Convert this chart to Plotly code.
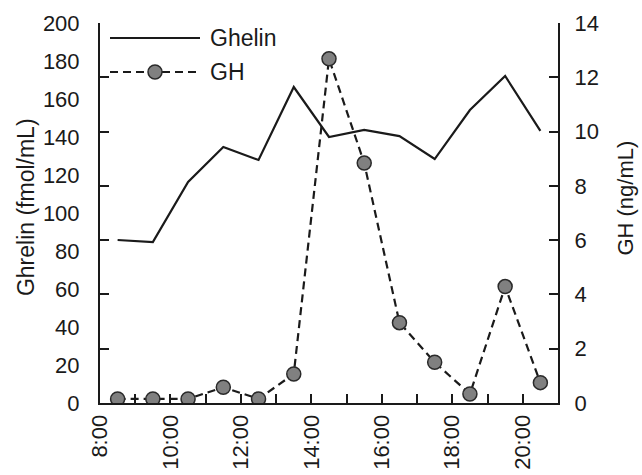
import plotly.graph_objects as go

# ---- data ----
times = ["8:30", "9:30", "10:30", "11:30", "12:30", "13:30", "14:30",
         "15:30", "16:30", "17:30", "18:30", "19:30", "20:30"]
ghrelin = [85.8, 84.7, 116.3, 134.7, 127.9, 166.3, 140.0,
           143.7, 140.5, 128.4, 154.2, 172.1, 143.2]
gh = [0.15, 0.15, 0.15, 0.58, 0.15, 1.07, 12.68,
      8.84, 2.96, 1.50, 0.33, 4.29, 0.75]

left_ticks = [0, 20, 40, 60, 80, 100, 120, 140, 160, 180, 200]
right_ticks = [0, 2, 4, 6, 8, 10, 12, 14]
hour_ticks = list(range(8, 22))
hour_labels = [f"{h}:00" if h % 2 == 0 and h <= 20 else "" for h in hour_ticks]


def to_hours(t):
    h, m = t.split(":")
    return int(h) + int(m) / 60.0


x = [to_hours(t) for t in times]

FONT = "Liberation Sans, Arial, Helvetica, sans-serif"
INK = "#1a1a1a"
FS = 22

fig = go.Figure()
fig.add_trace(go.Scatter(
    x=x, y=ghrelin, mode="lines", name="Ghelin",
    line=dict(color=INK, width=2.2), yaxis="y", showlegend=False))
fig.add_trace(go.Scatter(
    x=x, y=gh, mode="lines+markers", name="GH",
    line=dict(color=INK, width=2.2, dash="8px,5px"),
    marker=dict(size=14, color="#808080", line=dict(color="#2a2a2a", width=1.5)),
    yaxis="y2", showlegend=False))

fig.update_layout(
    width=642, height=475,
    margin=dict(l=100, r=84, t=23, b=72, autoexpand=False),
    paper_bgcolor="white", plot_bgcolor="white",
    font=dict(family=FONT, size=FS, color=INK),
    xaxis=dict(
        range=[8, 21], tickmode="array", tickvals=hour_ticks, ticktext=hour_labels,
        tickangle=-90, ticks="inside", ticklen=9, tickwidth=1.5, tickcolor=INK,
        showline=True, linecolor=INK, linewidth=2, showgrid=False, zeroline=False,
        ticklabelstandoff=1, tickfont=dict(size=22), automargin=False,
    ),
    yaxis=dict(
        range=[0, 200], tickmode="array", tickvals=left_ticks,
        ticks="", showline=True, linecolor=INK, linewidth=2,
        showgrid=False, zeroline=False, ticklabelstandoff=14, automargin=False,
    ),
    yaxis2=dict(
        range=[0, 14], tickmode="array", tickvals=right_ticks,
        overlaying="y", side="right", ticks="inside", ticklen=9, tickwidth=1.5,
        tickcolor=INK, mirror="ticks", showline=True, linecolor=INK, linewidth=2,
        showgrid=False, zeroline=False, ticklabelstandoff=10, automargin=False,
    ),
)

# axis titles
fig.add_annotation(text="Ghrelin (fmol/mL)", xref="paper", yref="paper",
                   x=-0.162, y=0.515, textangle=-90, showarrow=False,
                   xanchor="center", yanchor="middle", font=dict(size=23))
fig.add_annotation(text="GH (ng/mL)", xref="paper", yref="paper",
                   x=1.148, y=0.54, textangle=-90, showarrow=False,
                   xanchor="center", yanchor="middle", font=dict(size=22))

# manual legend (matches the long legend keys of the original)
y1 = (403 - 38) / 380
y2 = (403 - 72) / 380
lx0, lx1 = 10 / 458, 100 / 458
fig.add_shape(type="line", xref="paper", yref="paper", x0=lx0, x1=lx1, y0=y1, y1=y1,
              line=dict(color=INK, width=2.2))
fig.add_shape(type="line", xref="paper", yref="paper", x0=lx0, x1=lx1, y0=y2, y1=y2,
              line=dict(color=INK, width=2.2, dash="8px,5px"))
mx = 55 / 458
fig.add_shape(type="circle", xref="paper", yref="paper",
              xsizemode="pixel", ysizemode="pixel", xanchor=mx, yanchor=y2,
              x0=-7, x1=7, y0=-7, y1=7,
              fillcolor="#808080", line=dict(color="#2a2a2a", width=1.5))
fig.add_annotation(text="Ghelin", xref="paper", yref="paper", x=108 / 458, y=y1,
                   xanchor="left", yanchor="middle", showarrow=False,
                   font=dict(size=23))
fig.add_annotation(text="GH", xref="paper", yref="paper", x=108 / 458, y=y2,
                   xanchor="left", yanchor="middle", showarrow=False,
                   font=dict(size=23))

fig.write_html("out.html")
